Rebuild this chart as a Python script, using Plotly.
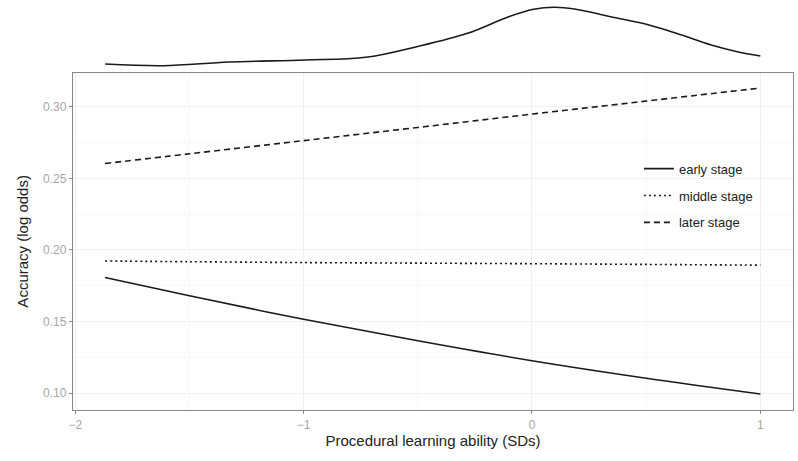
import plotly.graph_objects as go

# ---- data ----
x_pts = [-1.87, -1.5, -1.0, -0.5, 0.0, 0.5, 1.0]
early = [0.1808, 0.1680, 0.1516, 0.1366, 0.1227, 0.1105, 0.0995]
middle = [0.1923, 0.1918, 0.1912, 0.1908, 0.1904, 0.1899, 0.1894]
later = [0.2603, 0.2671, 0.2763, 0.2855, 0.2948, 0.3039, 0.3130]

dens_x = [-1.869, -1.615, -1.327, -0.994, -0.728, -0.505, -0.282, -0.102, 0.007,
          0.099, 0.186, 0.344, 0.497, 0.632, 0.785, 0.899, 1.0]
dens_y = [0.119, 0.094, 0.149, 0.179, 0.219, 0.378, 0.578, 0.825, 0.936,
          0.966, 0.940, 0.825, 0.716, 0.578, 0.403, 0.303, 0.239]

x_ticks = [-2, -1, 0, 1]
x_tick_labels = ["\u22122", "\u22121", "0", "1"]
y_ticks = [0.10, 0.15, 0.20, 0.25, 0.30]
y_tick_labels = ["0.10", "0.15", "0.20", "0.25", "0.30"]

series_names = ["early stage", "middle stage", "later stage"]
dashes = ["solid", "2px,3px", "6px,4px"]

FONT = "Liberation Sans, Arial, Helvetica, sans-serif"
LINE_COL = "#1a1a1a"

fig = go.Figure()
for name, vals, d in zip(series_names, [early, middle, later], dashes):
    fig.add_trace(go.Scatter(
        x=x_pts, y=vals, mode="lines", name=name, legendgroup=name,
        line=dict(color=LINE_COL, width=1.6, dash=d, shape="spline"),
        xaxis="x", yaxis="y"))

fig.add_trace(go.Scatter(
    x=dens_x, y=dens_y, mode="lines", showlegend=False,
    line=dict(color=LINE_COL, width=1.6, shape="spline"),
    xaxis="x2", yaxis="y2"))

W, H = 798, 461
ml, mr, mt, mb = 73, 5, 5, 51
plot_h = H - mt - mb
main_top = (410 - 72.7) / plot_h

xr = [-2.01, 1.143]
fig.update_layout(
    width=W, height=H,
    margin=dict(l=ml, r=mr, t=mt, b=mb, autoexpand=False),
    paper_bgcolor="white", plot_bgcolor="white",
    font=dict(family=FONT, color="#222"),
    xaxis=dict(domain=[0, 1], range=xr, tickvals=x_ticks,
               ticktext=x_tick_labels, automargin=False,
               showline=True, mirror=True, linecolor="#888", linewidth=1.3,
               ticks="outside", ticklen=3, tickcolor="#888", tickwidth=1,
               tickfont=dict(size=12, color="#a6a6a6", family=FONT),
               showgrid=True, gridcolor="#f0f0f0", gridwidth=1,
               minor=dict(tickvals=[-1.5, -0.5, 0.5], showgrid=True,
                          gridcolor="#f7f7f7", gridwidth=1, ticks=""),
               zeroline=False,
               title=dict(text="Procedural learning ability (SDs)",
                          font=dict(size=15, color="#222", family=FONT), standoff=2),
               anchor="y"),
    yaxis=dict(domain=[0, main_top], range=[0.0883, 0.3237], tickvals=y_ticks,
               ticktext=y_tick_labels, automargin=False,
               showline=True, mirror=True, linecolor="#888", linewidth=1.3,
               ticks="outside", ticklen=3, tickcolor="#888", tickwidth=1,
               tickfont=dict(size=12, color="#a6a6a6", family=FONT),
               showgrid=True, gridcolor="#f0f0f0", gridwidth=1,
               minor=dict(tickvals=[0.125, 0.175, 0.225, 0.275], showgrid=True,
                          gridcolor="#f7f7f7", gridwidth=1, ticks=""),
               zeroline=False,
               title=dict(text="Accuracy (log odds)",
                          font=dict(size=15, color="#222", family=FONT), standoff=10),
               anchor="x"),
    xaxis2=dict(domain=[0, 1], range=xr, visible=False, anchor="y2"),
    yaxis2=dict(domain=[(410 - 72) / plot_h, 1], range=[0, 1], visible=False,
                anchor="x2"),
    legend=dict(x=0.786, y=0.633, xanchor="left", yanchor="top",
                bgcolor="rgba(0,0,0,0)", font=dict(size=13, color="#222", family=FONT),
                tracegroupgap=7, itemwidth=30),
    showlegend=True,
)

fig.write_html("out.html",
               config={"displayModeBar": False},
               post_script="document.body.style.margin='0px';document.body.style.padding='0px';")
